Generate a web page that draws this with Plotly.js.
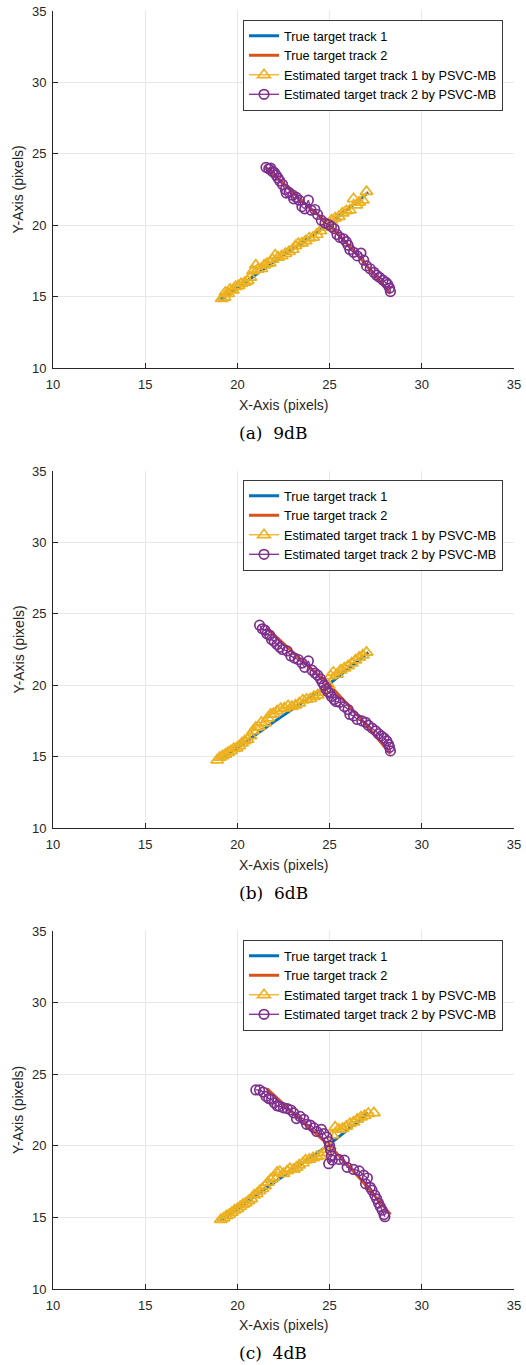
<!DOCTYPE html>
<html>
<head>
<meta charset="utf-8">
<script src="https://cdn.plot.ly/plotly-3.0.1.min.js"></script>
<style>
  html, body { margin: 0; padding: 0; background: #ffffff; }
  #chart { width: 526px; height: 1365px; }
</style>
</head>
<body>
<div id="chart"></div>
<script>
// ---------------- DATA ----------------
const seriesNames = [
  'True target track 1',
  'True target track 2',
  'Estimated target track 1 by PSVC-MB',
  'Estimated target track 2 by PSVC-MB'
];
const panelCaptions = ['(a)\u00A0\u00A09dB', '(b)\u00A0\u00A06dB', '(c)\u00A0\u00A04dB'];
const xTickVals = [10, 15, 20, 25, 30, 35];
const yTickVals = [10, 15, 20, 25, 30, 35];
const xTitle = 'X-Axis (pixels)';
const yTitle = 'Y-Axis (pixels)';

// True tracks (shared by all panels)
const trueTrack1X = [19.1, 22.0, 25.0, 27.1];
const trueTrack1Y = [14.8, 17.45, 20.1, 22.3];
const trueTrack2X = [21.6, 23.3, 25.0, 26.7, 28.3];
const trueTrack2Y = [24.0, 21.95, 20.0, 17.65, 15.2];

// Panel (a) 9dB
const est1X_9dB = [19.15,19.3,19.35,19.5,19.6,19.75,19.9,20.05,20.2,20.4,20.55,20.7,20.85,21.0,21.1,21.3,21.45,21.6,21.75,21.9,22.05,22.2,22.4,22.6,22.8,23.0,23.15,23.3,23.5,23.7,23.9,24.1,24.3,24.5,24.7,24.9,25.1,25.3,25.5,25.7,25.9,26.1,26.3,26.45,26.6,26.8,27.0];
const est1Y_9dB = [14.85,14.95,15.3,15.2,15.5,15.45,15.7,15.75,15.9,16.0,16.1,16.35,16.8,17.2,16.9,16.95,17.2,17.3,17.35,17.6,17.9,17.75,17.85,18.0,18.15,18.3,18.55,18.7,18.75,18.9,19.1,19.15,19.35,19.6,19.85,20.0,20.35,20.5,20.6,20.85,21.0,21.05,21.85,21.4,21.6,21.75,22.35];
const est2X_9dB = [21.55,21.7,21.8,21.9,22.0,22.1,22.2,22.3,22.45,22.6,22.65,22.8,23.0,23.05,23.2,23.35,23.5,23.65,23.85,24.0,24.2,24.35,24.55,24.75,24.95,25.1,25.25,25.4,25.55,25.75,25.9,26.0,26.1,26.3,26.5,26.7,26.85,27.0,27.2,27.4,27.55,27.7,27.9,28.05,28.15,28.25,28.3];
const est2Y_9dB = [24.05,23.95,24.0,23.75,23.7,23.5,23.3,23.1,22.85,22.5,22.25,22.3,22.1,21.85,21.95,21.75,21.3,21.15,21.75,21.05,21.1,20.75,20.35,20.15,20.05,19.9,19.75,19.35,19.15,19.05,18.85,18.6,18.3,18.1,17.85,18.05,17.55,17.15,16.95,16.7,16.5,16.35,16.15,16.0,15.85,15.6,15.35];

// Panel (b) 6dB
const est1X_6dB = [18.9,19.05,19.2,19.35,19.5,19.65,19.8,19.95,20.1,20.25,20.4,20.55,20.7,20.85,21.0,21.15,21.3,21.5,21.65,21.8,21.95,22.15,22.35,22.55,22.75,22.95,23.15,23.35,23.55,23.75,23.95,24.15,24.35,24.55,24.75,24.95,25.05,25.2,25.4,25.6,25.8,26.0,26.2,26.4,26.6,26.8,27.0];
const est1Y_6dB = [14.75,14.95,15.05,15.15,15.3,15.4,15.55,15.6,15.75,15.95,16.1,16.2,16.45,16.8,17.05,17.1,17.4,17.35,17.7,17.95,18.0,18.2,18.35,18.4,18.55,18.5,18.6,18.75,18.95,19.0,19.05,19.2,19.3,19.5,19.7,20.0,20.65,20.9,20.75,21.05,21.2,21.35,21.55,21.75,21.95,22.1,22.3];
const est2X_6dB = [21.2,21.35,21.5,21.6,21.75,21.85,22.0,22.15,22.3,22.45,22.7,22.9,23.1,23.3,23.5,23.65,23.85,24.05,24.2,24.35,24.5,24.6,24.7,24.8,24.9,25.0,25.1,25.25,25.35,25.55,25.8,26.0,26.1,26.3,26.5,26.75,26.95,27.1,27.3,27.5,27.65,27.8,27.95,28.1,28.2,28.25,28.3];
const est2Y_6dB = [24.2,23.95,23.85,23.6,23.5,23.2,23.05,22.85,22.65,22.5,22.4,22.05,21.9,21.8,21.55,21.25,21.7,21.05,20.85,20.7,20.45,20.2,20.0,19.75,19.55,19.45,19.2,19.0,18.85,18.8,18.5,18.3,17.95,17.85,17.6,17.5,17.4,17.2,17.0,16.8,16.6,16.45,16.3,16.1,15.85,15.65,15.4];

// Panel (c) 4dB
const est1X_4dB = [19.1,19.25,19.4,19.55,19.7,19.85,20.0,20.15,20.3,20.45,20.6,20.75,20.9,21.05,21.2,21.35,21.5,21.65,21.8,21.95,22.15,22.3,22.5,22.7,22.85,23.05,23.2,23.35,23.55,23.7,23.9,24.1,24.3,24.5,24.7,24.85,25.0,25.15,25.3,25.5,25.7,25.9,26.1,26.3,26.5,26.7,26.9,27.1,27.4];
const est1Y_4dB = [14.85,14.95,15.1,15.2,15.35,15.5,15.6,15.75,15.9,16.0,16.15,16.3,16.55,16.65,16.85,17.0,17.2,17.45,17.65,17.8,18.15,18.2,18.05,18.25,18.4,18.35,18.5,18.65,18.8,19.0,19.05,19.15,19.25,19.3,19.5,19.75,20.0,20.75,21.3,21.15,21.2,21.35,21.55,21.65,21.85,22.0,22.1,22.25,22.3];
const est2X_4dB = [21.0,21.2,21.4,21.55,21.7,21.85,22.0,22.15,22.3,22.5,22.7,22.9,23.05,23.2,23.4,23.6,23.75,23.95,24.15,24.3,24.55,24.7,24.85,24.95,25.0,25.05,25.1,24.95,25.15,25.5,25.8,25.95,26.3,26.6,26.85,27.05,26.95,27.2,27.3,27.45,27.55,27.65,27.75,27.85,27.95,28.0];
const est2Y_4dB = [23.9,23.9,23.75,23.45,23.3,23.25,23.0,22.8,22.75,22.65,22.6,22.5,22.3,21.9,22.05,21.85,21.5,21.45,21.25,21.0,21.15,20.85,20.6,20.3,20.0,19.7,19.3,18.75,19.0,19.05,19.0,18.5,18.35,18.25,17.95,17.75,17.35,17.1,16.9,16.55,16.3,16.0,15.75,15.5,15.2,15.05];

const panelEstimates = [
  [est1X_9dB, est1Y_9dB, est2X_9dB, est2Y_9dB],
  [est1X_6dB, est1Y_6dB, est2X_6dB, est2Y_6dB],
  [est1X_4dB, est1Y_4dB, est2X_4dB, est2Y_4dB]
];

// ---------------- STYLE / LAYOUT ----------------
const W = 526, H = 1365;
const M = {l: 53, r: 12, t: 11, b: 76};
const plotH = H - M.t - M.b;          // 1278
const panelTopPx = [11, 471, 931];
const panelBotPx = [368, 828, 1289];
const toPaperY = px => (H - M.b - px) / plotH;
const toPaperX = px => (px - M.l) / (W - M.l - M.r);

const colors = ['#0072BD', '#D95319', '#EDB120', '#7E2F8E'];
const axisColor = '#262626';
const sans = 'Liberation Sans, Arial, Helvetica, sans-serif';

const traces = [];
const layout = {
  width: W, height: H,
  margin: M,
  paper_bgcolor: '#ffffff',
  plot_bgcolor: '#ffffff',
  showlegend: true,
  annotations: [],
  font: {family: sans, color: axisColor}
};

for (let p = 0; p < 3; p++) {
  const sfx = p === 0 ? '' : String(p + 1);
  const xa = 'x' + sfx, ya = 'y' + sfx;
  const legendName = 'legend' + sfx;
  const [e1x, e1y, e2x, e2y] = panelEstimates[p];

  traces.push({x: trueTrack1X, y: trueTrack1Y, xaxis: xa, yaxis: ya, legend: legendName,
    type: 'scatter', mode: 'lines', name: seriesNames[0],
    line: {color: colors[0], width: 3}});
  traces.push({x: trueTrack2X, y: trueTrack2Y, xaxis: xa, yaxis: ya, legend: legendName,
    type: 'scatter', mode: 'lines', name: seriesNames[1],
    line: {color: colors[1], width: 3}});
  traces.push({x: e1x, y: e1y, xaxis: xa, yaxis: ya, legend: legendName,
    type: 'scatter', mode: 'lines+markers', name: seriesNames[2],
    line: {color: colors[2], width: 1.3},
    marker: {symbol: 'triangle-up-open', size: 11, color: colors[2], line: {width: 1.7, color: colors[2]}}});
  traces.push({x: e2x, y: e2y, xaxis: xa, yaxis: ya, legend: legendName,
    type: 'scatter', mode: 'lines+markers', name: seriesNames[3],
    line: {color: colors[3], width: 1.3},
    marker: {symbol: 'circle-open', size: 9.5, color: colors[3], line: {width: 1.7, color: colors[3]}}});

  const yDom = [toPaperY(panelBotPx[p]), toPaperY(panelTopPx[p])];
  const common = {
    range: [10, 35], autorange: false,
    showgrid: true, gridcolor: '#e8e8e8', gridwidth: 1,
    zeroline: false,
    showline: true, linecolor: axisColor, linewidth: 1, mirror: false,
    ticks: 'inside', ticklen: 5, tickwidth: 1, tickcolor: axisColor,
    tickfont: {family: sans, size: 13, color: axisColor},
    fixedrange: true
  };
  layout['xaxis' + sfx] = Object.assign({}, common, {
    domain: [0, 1], anchor: ya, tickvals: xTickVals, ticklabelstandoff: 4
  });
  layout['yaxis' + sfx] = Object.assign({}, common, {
    domain: yDom, anchor: xa, tickvals: yTickVals, ticklabelstandoff: 3
  });

  layout[legendName] = {
    x: toPaperX(243), y: toPaperY(panelTopPx[p] + 9),
    xref: 'paper', yref: 'paper',
    xanchor: 'left', yanchor: 'top',
    bgcolor: '#ffffff', bordercolor: '#3a3a3a', borderwidth: 1,
    font: {family: sans, size: 12.7, color: '#000000'},
    tracegroupgap: 0
  };

  const off = panelTopPx[p] - 11;
  layout.annotations.push({
    text: xTitle, xref: 'paper', yref: 'paper',
    x: 0.5, y: toPaperY(405 + off), xanchor: 'center', yanchor: 'middle',
    showarrow: false, font: {family: sans, size: 14, color: axisColor}
  });
  layout.annotations.push({
    text: yTitle, xref: 'paper', yref: 'paper', textangle: -90,
    x: toPaperX(18), y: toPaperY((panelTopPx[p] + panelBotPx[p]) / 2),
    xanchor: 'center', yanchor: 'middle',
    showarrow: false, font: {family: sans, size: 14, color: axisColor}
  });
  layout.annotations.push({
    text: panelCaptions[p], xref: 'paper', yref: 'paper',
    x: toPaperX(273), y: toPaperY(433 + off), xanchor: 'center', yanchor: 'middle',
    showarrow: false, font: {family: 'DejaVu Serif, Liberation Serif, serif', size: 17, color: '#000000'}
  });
}

Plotly.newPlot('chart', traces, layout, {staticPlot: true, displayModeBar: false});
</script>
</body>
</html>
